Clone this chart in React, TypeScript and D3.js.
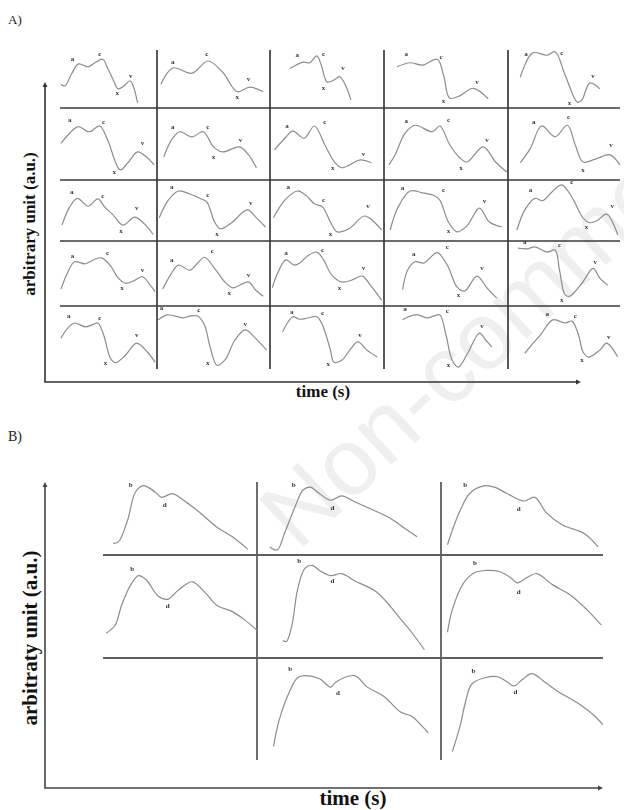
import React, { useEffect, useRef } from 'react';
import * as d3 from 'd3';

// each sketch: [time %, amplitude %] inside its own cell (amplitude 100 = top of cell)
// labels: [time %, amplitude %] for a, c, x, v (panel A) or b, d (panel B)

// panel A, row 0
const a00 = [[1,41],[5,38],[12,59],[19,76],[29,71],[36,78],[44,84],[49,69],[55,48],[60,33],[66,38],[72,47],[75,40],[80,9]];
const a00L = [[13,83],[41,93],[59,26],[73,55]];
const a01 = [[3.5,41],[14,69],[31,60],[45,81],[58,62],[71,28],[82,36],[94,28]];
const a01L = [[14,78],[44,93],[71,18],[81,49]];
const a02 = [[17.5,68],[29,79],[35,78],[41,90],[45,74],[50,45],[56,48],[61,54],[66,40],[71,14]];
const a02L = [[24,90],[47,92],[47,34],[64,69]];
const a03 = [[10.5,71],[21,78],[31,74],[43,84],[48,57],[53,17],[61,21],[72,34],[84,16]];
const a03L = [[18,93],[46,87],[48,11],[75,44]];
const a04 = [[11,53],[22,95],[35,91],[42,97],[51,57],[62,10],[66,14],[73,43],[82,33]];
const a04L = [[16,93],[48,95],[55,8],[76,54]];
// row 1
const a10 = [[1,51],[10,65],[19,74],[30,67],[41,75],[49,56],[62,14],[70,24],[80,39],[90,31],[97,21]];
const a10L = [[10,83],[45,80],[56,10],[85,51]];
const a11 = [[6,32],[13,56],[20,67],[31,60],[41,67],[50,46],[58,39],[73,46],[81,35],[88,17]];
const a11L = [[14,73],[45,73],[50,31],[74,55]];
const a12 = [[4,42],[13,58],[20,68],[30,58],[39,75],[48,49],[57,24],[63,17],[70,21],[79,28],[89,24]];
const a12L = [[15,75],[48,80],[55,16],[82,36]];
const a13 = [[4,21],[9,35],[17,65],[25,76],[39,67],[45,75],[53,49],[61,31],[67,25],[80,46],[90,25],[99,11]];
const a13L = [[18,82],[52,83],[62,16],[83,55]];
const a14 = [[11,24],[20,44],[30,75],[42,60],[53,76],[60,49],[67,25],[78,29],[91,35],[100,21]];
const a14L = [[23,80],[54,87],[67,14],[92,48]];
// row 2
const a20 = [[2,26],[10,56],[18,70],[29,57],[39,69],[46,56],[54,44],[65,26],[77,39],[87,28],[96,11]];
const a20L = [[12,80],[44,73],[63,16],[79,53]];
const a21 = [[2,38],[10,67],[19,82],[29,77],[38,70],[44,64],[51,31],[56,20],[66,30],[80,51],[88,38],[96,23]];
const a21L = [[13,88],[45,75],[53,11],[83,62]];
const a22 = [[3,38],[13,67],[24,82],[32,74],[39,61],[46,56],[53,31],[59,15],[70,21],[83,41],[98,18]];
const a22L = [[16,88],[47,67],[53,11],[86,56]];
const a23 = [[5,18],[11,54],[21,82],[31,79],[40,75],[45,67],[52,31],[59,15],[67,25],[77,54],[85,31],[95,23]];
const a23L = [[15,86],[48,83],[52,16],[81,65]];
const a24 = [[8,18],[15,51],[24,70],[31,66],[39,80],[48,92],[57,72],[67,38],[73,30],[80,34],[88,44],[98,10]];
const a24L = [[20,83],[57,96],[70,22],[93,56]];
// row 3
const a30 = [[1,26],[8,52],[15,68],[26,65],[36,72],[43,74],[52,62],[59,45],[67,35],[75,38],[85,45],[93,32],[98,22]];
const a30L = [[13,76],[49,81],[64,27],[85,55]];
const a31 = [[5,26],[12,48],[19,63],[29,55],[36,66],[42,75],[51,58],[60,37],[67,28],[73,32],[81,37],[87,25],[94,15]];
const a31L = [[13,70],[49,84],[64,20],[81,47]];
const a32 = [[2,28],[7,52],[14,71],[21,63],[26,66],[33,77],[41,83],[47,71],[54,48],[63,37],[72,40],[81,46],[88,32],[98,9]];
const a32L = [[14,81],[46,86],[61,27],[82,58]];
const a33 = [[15,25],[19,55],[25,68],[32,66],[37,74],[43,82],[51,63],[59,29],[65,23],[75,46],[83,28],[91,12]];
const a33L = [[24,79],[51,90],[60,16],[79,58]];
const a34 = [[9,89],[17,88],[24,91],[35,83],[42,86],[46,55],[51,17],[55,15],[66,35],[76,58],[82,43],[89,32]];
const a34L = [[15,98],[46,94],[48,9],[78,67]];
// row 4
const a40 = [[1,49],[8,65],[15,73],[26,67],[33,70],[39,73],[45,54],[52,17],[57,10],[67,21],[79,41],[90,27],[98,11]];
const a40L = [[9,84],[41,81],[47,9],[79,53]];
const a41 = [[1,78],[9,86],[16,84],[23,81],[29,84],[36,84],[42,70],[47,35],[53,6],[60,14],[69,46],[78,62],[87,49],[97,30]];
const a41L = [[4,96],[37,93],[45,9],[78,71]];
const a42 = [[11,59],[16,75],[20,83],[26,79],[33,81],[41,83],[46,70],[53,30],[56,11],[63,14],[70,30],[77,43],[85,30],[94,19]];
const a42L = [[19,90],[46,88],[51,7],[79,53]];
const a43 = [[15,78],[21,84],[27,86],[35,81],[40,84],[45,86],[50,54],[55,14],[60,3],[68,27],[77,57],[82,46],[87,35]];
const a43L = [[17,95],[51,91],[52,6],[79,68]];
const a44 = [[15,25],[21,38],[29,54],[40,78],[51,73],[57,76],[63,54],[67,27],[72,19],[82,30],[88,41],[98,19]];
const a44L = [[35,87],[60,84],[66,14],[90,50]];

// panel B (row 2, col 0 is empty)
const b00 = [[6.5,16],[10,18],[16,48],[21,86],[26,95],[29,93],[34,86],[38,79],[45,84],[53,74],[63,58],[74,38],[84,25],[94,8]];
const b00L = [[18,95],[40,68]];
const b01 = [[7,11],[11,7],[15,30],[21,68],[25,89],[29,93],[33,86],[40,75],[46,81],[53,73],[61,64],[72,51],[80,37],[87,25]];
const b01L = [[20,95],[41,64]];
const b02 = [[4,14],[7,34],[12,62],[18,85],[27,95],[33,93],[41,84],[51,74],[58,79],[65,58],[75,41],[88,30],[97,11]];
const b02L = [[15,95],[48,63]];
const b10 = [[2,24],[8,32],[12,51],[18,71],[23,80],[28,76],[36,60],[42,57],[49,66],[58,74],[66,64],[74,51],[84,45],[92,37],[100,27]];
const b10L = [[19,86],[42,50]];
const b11 = [[14,17],[16,16],[19,32],[22,66],[26,87],[30,90],[34,85],[40,80],[46,82],[53,75],[65,64],[78,38],[84,25],[91,8]];
const b11L = [[23,94],[41,74]];
const b12 = [[4,25],[7,47],[14,73],[21,83],[28,85],[36,84],[43,78],[47,73],[53,78],[59,82],[69,71],[80,61],[90,47],[99,32]];
const b12L = [[21,92],[48,64]];
const b21 = [[9,15],[12,40],[18,69],[22,81],[26,83],[34,80],[40,72],[43,77],[53,83],[60,72],[69,63],[78,48],[84,44],[90,34],[93,28]];
const b21L = [[18,89],[44,66]];
const b22 = [[7,10],[12,36],[15,57],[19,75],[27,81],[35,82],[41,77],[45,73],[50,79],[56,85],[64,77],[71,69],[86,55],[95,44],[100,36]];
const b22L = [[20,87],[46,67]];

const lettersA = ['a', 'c', 'x', 'v'];
const lettersB = ['b', 'd'];

const gridA = [
  [[a00, a00L], [a01, a01L], [a02, a02L], [a03, a03L], [a04, a04L]],
  [[a10, a10L], [a11, a11L], [a12, a12L], [a13, a13L], [a14, a14L]],
  [[a20, a20L], [a21, a21L], [a22, a22L], [a23, a23L], [a24, a24L]],
  [[a30, a30L], [a31, a31L], [a32, a32L], [a33, a33L], [a34, a34L]],
  [[a40, a40L], [a41, a41L], [a42, a42L], [a43, a43L], [a44, a44L]],
];
const gridB = [
  [[b00, b00L], [b01, b01L], [b02, b02L]],
  [[b10, b10L], [b11, b11L], [b12, b12L]],
  [null, [b21, b21L], [b22, b22L]],
];

const serif = '"Liberation Serif", "DejaVu Serif", serif';

export default function App() {
  const ref = useRef<SVGSVGElement>(null);

  useEffect(() => {
    const svg = d3.select(ref.current);
    svg.selectAll('*').remove();

    // grey filter so the tiny letters don't pick up colour fringes
    svg.append('defs').append('filter')
      .attr('id', 'grey')
      .append('feColorMatrix')
      .attr('type', 'saturate')
      .attr('values', 0);

    // faint watermark, runs off the top right like the original
    svg.append('text')
      .attr('transform', 'translate(298,552) rotate(-43)')
      .attr('font-family', '"Liberation Sans", Arial, sans-serif')
      .attr('font-size', 95)
      .attr('fill', '#efefef')
      .text('Non-comme');

    const line = d3.line<number[]>().curve(d3.curveCatmullRom.alpha(0.5));

    function drawPanel(grid, colX, rowY, letters, gridColor, gridWidth, hLines, vLines) {
      const g = svg.append('g');
      hLines.forEach(([r, x0, x1]) => {
        g.append('line')
          .attr('x1', x0).attr('x2', x1)
          .attr('y1', rowY(r)).attr('y2', rowY(r))
          .attr('stroke', gridColor).attr('stroke-width', gridWidth);
      });
      vLines.forEach(([c, y0, y1]) => {
        g.append('line')
          .attr('x1', colX(c)).attr('x2', colX(c))
          .attr('y1', y0).attr('y2', y1)
          .attr('stroke', gridColor).attr('stroke-width', gridWidth);
      });
      const labels = svg.append('g').attr('filter', 'url(#grey)');
      grid.forEach((row, r) => {
        row.forEach((cell, c) => {
          if (!cell) return;
          const [pts, labs] = cell;
          const x = d3.scaleLinear().domain([0, 100]).range([colX(c), colX(c + 1)]);
          const y = d3.scaleLinear().domain([0, 100]).range([rowY(r + 1), rowY(r)]);
          line.x(d => x(d[0])).y(d => y(d[1]));
          g.append('path')
            .attr('d', line(pts))
            .attr('fill', 'none')
            .attr('stroke', '#8c8c8c')
            .attr('stroke-width', 1.2);
          labs.forEach((p, i) => {
            labels.append('text')
              .attr('x', x(p[0])).attr('y', y(p[1]))
              .attr('text-anchor', 'middle')
              .attr('dominant-baseline', 'middle')
              .attr('font-family', serif)
              .attr('font-weight', 'bold')
              .attr('font-size', 7)
              .attr('fill', '#333')
              .text(letters[i]);
          });
        });
      });
    }

    function drawAxes(x0, yTop, yBottom, xRight, color) {
      const g = svg.append('g');
      g.append('path')
        .attr('d', `M${x0},${yTop + 3}V${yBottom}H${xRight - 3}`)
        .attr('fill', 'none').attr('stroke', color).attr('stroke-width', 1.6);
      g.append('path')
        .attr('d', `M${x0 - 2.5},${yTop + 5}L${x0},${yTop}L${x0 + 2.5},${yTop + 5}Z`)
        .attr('fill', color);
      g.append('path')
        .attr('d', `M${xRight - 5},${yBottom - 2.5}L${xRight},${yBottom}L${xRight - 5},${yBottom + 2.5}Z`)
        .attr('fill', color);
    }

    // panel A
    const colA = d3.scaleLinear().domain([0, 1, 2, 3, 4, 5]).range([60, 157, 270, 384, 508, 620]);
    const rowA = d3.scaleLinear().domain([0, 1, 2, 3, 4, 5]).range([50, 108, 180, 241, 306, 369]);
    drawPanel(gridA, colA, rowA, lettersA, '#3a3a3a', 1.7,
      [1, 2, 3, 4].map(r => [r, 60, 620]),
      [1, 2, 3, 4].map(c => [c, 50, 369]));
    drawAxes(45, 82, 382, 581, '#333');

    svg.append('text').attr('x', 8).attr('y', 24)
      .attr('font-family', serif).attr('font-size', 13).attr('fill', '#222').text('A)');
    svg.append('text').attr('x', 323).attr('y', 397)
      .attr('text-anchor', 'middle').attr('font-family', serif).attr('font-weight', 'bold')
      .attr('font-size', 17).attr('fill', '#111').text('time (s)');
    svg.append('text').attr('transform', 'translate(35,224) rotate(-90)')
      .attr('text-anchor', 'middle').attr('font-family', serif).attr('font-weight', 'bold')
      .attr('font-size', 17).attr('fill', '#111').text('arbitrary unit (a.u.)');

    // panel B
    const colB = d3.scaleLinear().domain([0, 1, 2, 3]).range([103, 257, 441, 603]);
    const rowB = d3.scaleLinear().domain([0, 1, 2, 3]).range([482, 555, 658, 762]);
    drawPanel(gridB, colB, rowB, lettersB, '#5e5e5e', 1.8,
      [1, 2].map(r => [r, 103, 603]),
      [1, 2].map(c => [c, 482, 760]));
    drawAxes(45, 482, 788, 603, '#444');

    svg.append('text').attr('x', 8).attr('y', 441)
      .attr('font-family', serif).attr('font-size', 14).attr('fill', '#222').text('B)');
    svg.append('text').attr('x', 353).attr('y', 805)
      .attr('text-anchor', 'middle').attr('font-family', serif).attr('font-weight', 'bold')
      .attr('font-size', 21).attr('fill', '#111').text('time (s)');
    svg.append('text').attr('transform', 'translate(37,638) rotate(-90)')
      .attr('text-anchor', 'middle').attr('font-family', serif).attr('font-weight', 'bold')
      .attr('font-size', 21).attr('fill', '#111').text('arbitraty unit (a.u.)');
  }, []);

  return (
    <svg ref={ref} width={624} height={810}
      style={{ position: 'absolute', left: 0, top: 0, background: '#fff' }} />
  );
}
